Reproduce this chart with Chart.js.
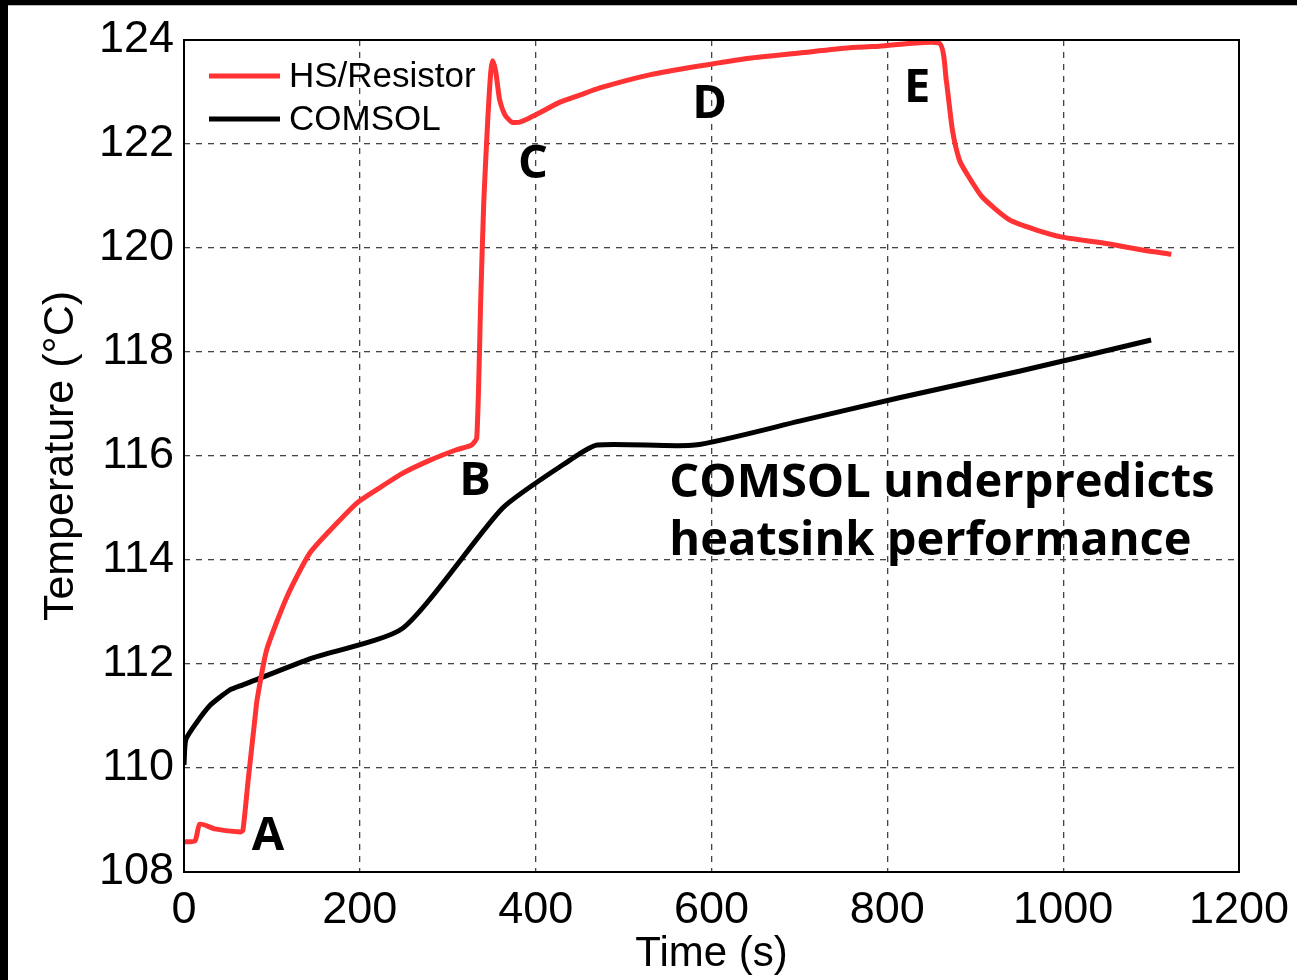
<!DOCTYPE html>
<html>
<head>
<meta charset="utf-8">
<script src="https://cdn.jsdelivr.net/npm/chart.js@4.4.1/dist/chart.umd.min.js"></script>
<style>
html,body{margin:0;padding:0;background:#fff;}
#wrap{width:1297px;height:980px;position:relative;}
</style>
</head>
<body>
<div id="wrap"><canvas id="c" width="1297" height="980"></canvas></div>
<script>
// HS/Resistor measured trace
const hsTime = [0, 12.5, 18, 35, 64, 67, 73, 81, 83, 94, 117, 143, 174, 197, 219, 249, 280, 310, 327, 333, 337.5, 341, 345.5, 349, 351, 354.5, 359, 365, 373, 382, 393, 404.5, 427, 450, 473, 529.5, 586, 643, 700, 757, 791, 859, 867, 874, 882, 890, 908, 939, 969, 999, 1044, 1090, 1123];
const hsTemp = [108.58, 108.6, 108.92, 108.83, 108.77, 108.8, 109.77, 111.0, 111.3, 112.27, 113.29, 114.13, 114.71, 115.1, 115.35, 115.67, 115.92, 116.12, 116.21, 116.35, 119.0, 120.9, 122.46, 123.4, 123.6, 123.4, 122.85, 122.56, 122.42, 122.42, 122.5, 122.6, 122.8, 122.94, 123.08, 123.33, 123.5, 123.65, 123.75, 123.85, 123.88, 123.94, 123.23, 122.27, 121.69, 121.44, 120.98, 120.54, 120.35, 120.21, 120.1, 119.96, 119.88];
// COMSOL prediction
const csTime = [0, 2, 12.5, 30, 52, 67, 75, 143, 249, 362.5, 439, 470, 581, 700, 813.6, 950, 1100];
const csTemp = [110.06, 110.54, 110.83, 111.21, 111.5, 111.6, 111.65, 112.1, 112.69, 115.0, 115.92, 116.21, 116.21, 116.67, 117.12, 117.63, 118.23];
const seriesLabels = ['HS/Resistor', 'COMSOL'];
const xTicks = [0, 200, 400, 600, 800, 1000, 1200];
const yTicks = [108, 110, 112, 114, 116, 118, 120, 122, 124];
// annotation labels: text, x (s), y (°C, baseline)
const noteText = ['A', 'B', 'C', 'D', 'E', 'COMSOL underpredicts', 'heatsink performance'];
const noteX = [95.5, 331, 397, 598, 834, 552, 552];
const noteY = [108.42, 115.25, 121.35, 122.5, 122.81, 115.21, 114.1];
const noteAlign = ['center', 'center', 'center', 'center', 'center', 'left', 'left'];

const toPts = (xs, ys) => xs.map((x, i) => ({x: x, y: ys[i]}));
const FONT = '"Liberation Sans", Arial, sans-serif';

const decor = {
  id: 'decor',
  beforeDraw(chart) {
    const ctx = chart.ctx;
    ctx.save();
    ctx.fillStyle = '#fff';
    ctx.fillRect(0, 0, chart.width, chart.height);
    ctx.fillStyle = '#000';
    ctx.fillRect(0, 0, chart.width, 5);
    ctx.fillRect(0, 0, 8, chart.height);
    ctx.fillStyle = '#bbb';
    ctx.fillRect(8, 5, chart.width - 8, 1);
    ctx.restore();
  },
  afterDraw(chart) {
    const ctx = chart.ctx;
    const a = chart.chartArea;
    const xs = chart.scales.x, ys = chart.scales.y;
    ctx.save();
    ctx.strokeStyle = '#000';
    ctx.lineWidth = 2;
    ctx.strokeRect(a.left, a.top, a.right - a.left, a.bottom - a.top);
    const ly = [76, 119];
    chart.data.datasets.forEach((ds, i) => {
      ctx.strokeStyle = ds.borderColor;
      ctx.lineWidth = 5;
      ctx.beginPath();
      ctx.moveTo(209, ly[i]);
      ctx.lineTo(280, ly[i]);
      ctx.stroke();
      ctx.fillStyle = '#000';
      ctx.font = '35px ' + FONT;
      ctx.textAlign = 'left';
      ctx.textBaseline = 'middle';
      ctx.fillText(ds.label, 289, ly[i] + 1);
    });
    ctx.fillStyle = '#000';
    ctx.textBaseline = 'alphabetic';
    noteText.forEach((t, i) => {
      ctx.font = 'bold 47px "Open Sans", sans-serif';
      ctx.textAlign = noteAlign[i];
      ctx.fillText(t, xs.getPixelForValue(noteX[i]), ys.getPixelForValue(noteY[i]));
    });
    ctx.restore();
  }
};

new Chart(document.getElementById('c'), {
  type: 'line',
  data: {
    datasets: [
      {label: seriesLabels[0], data: toPts(hsTime, hsTemp), borderColor: '#ff3333', borderWidth: 5, pointRadius: 0, tension: 0.2, fill: false},
      {label: seriesLabels[1], data: toPts(csTime, csTemp), borderColor: '#000000', borderWidth: 5, pointRadius: 0, tension: 0.2, fill: false}
    ]
  },
  options: {
    responsive: false,
    animation: false,
    layout: {padding: {top: 40, right: 58, left: 0, bottom: 0}},
    plugins: {legend: {display: false}, tooltip: {enabled: false}},
    scales: {
      x: {
        type: 'linear', min: 0, max: 1200,
        afterBuildTicks: s => { s.ticks = xTicks.map(v => ({value: v})); },
        afterFit: s => { s.height = 108; s.paddingLeft = 0; s.paddingRight = 0; },
        grid: {color: '#444', lineWidth: 1.3, drawTicks: false},
        border: {display: false, dash: [6, 6]},
        ticks: {color: '#000', padding: 12, callback: v => String(v), font: {family: FONT, size: 45}},
        title: {display: true, text: 'Time (s)', color: '#000', padding: {top: 0, bottom: 0}, font: {family: FONT, size: 42}}
      },
      y: {
        type: 'linear', min: 108, max: 124,
        afterBuildTicks: s => { s.ticks = yTicks.map(v => ({value: v})); },
        afterFit: s => { s.width = 184; s.paddingTop = 0; s.paddingBottom = 0; },
        grid: {color: '#444', lineWidth: 1.3, drawTicks: false},
        border: {display: false, dash: [6, 6]},
        ticks: {color: '#000', padding: 10, callback: v => String(v), font: {family: FONT, size: 45}},
        title: {display: true, text: 'Temperature (°C)', color: '#000', padding: {top: 35, bottom: 0}, font: {family: FONT, size: 43}}
      }
    }
  },
  plugins: [decor]
});
</script>
</body>
</html>
